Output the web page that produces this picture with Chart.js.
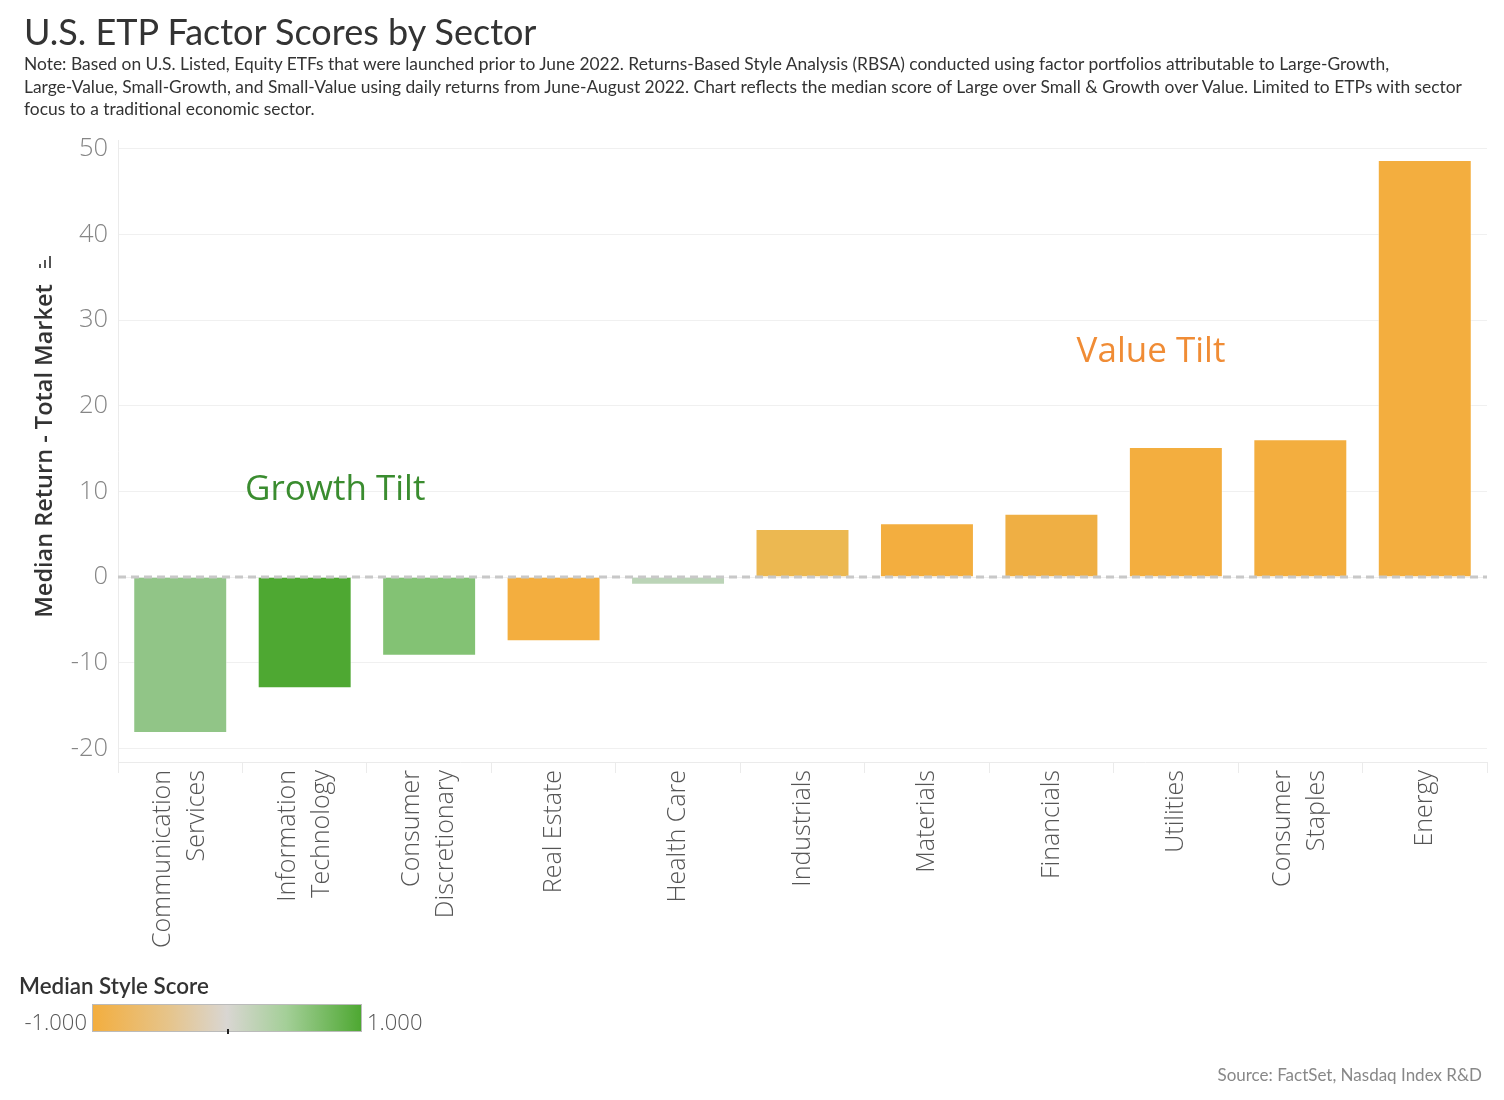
<!DOCTYPE html>
<html><head><meta charset="utf-8">
<script src="https://cdn.jsdelivr.net/npm/chart.js@4/dist/chart.umd.min.js"></script>
<style>
body{margin:0;width:1504px;height:1100px;position:relative;background:#fff;overflow:hidden;}
canvas{position:absolute;left:0;top:0;}
#title{position:absolute;left:24px;top:9px;font:36px Lato,"Open Sans",sans-serif;color:#333;white-space:nowrap;}
#note{position:absolute;left:24px;top:53px;font:17.4px Lato,"Open Sans",sans-serif;color:#333;line-height:22.5px;white-space:nowrap;}
#source{position:absolute;right:22px;top:1064px;font:17px Lato,"Open Sans",sans-serif;color:#888;}
#legTitle{position:absolute;left:19px;top:972px;font:600 22.4px Lato,"Open Sans",sans-serif;color:#333;}
#legBar{position:absolute;left:92px;top:1004px;width:268px;height:26px;border:1px solid #bbb;
 background:linear-gradient(to right,#f3ae3f 0%,#e6c48a 28%,#d9d6d2 50%,#a4cf98 72%,#4ea832 100%);}
#legTick{position:absolute;left:227px;top:1029px;width:2px;height:5px;background:#222;}
.legLab{position:absolute;top:1006px;font:300 22px "Open Sans",sans-serif;color:#555;}
</style></head><body>
<canvas id="c" width="1504" height="1100"></canvas>
<div id="title">U.S. ETP Factor Scores by Sector</div>
<div id="note">Note: Based on U.S. Listed, Equity ETFs that were launched prior to June 2022. Returns-Based Style Analysis (RBSA) conducted using factor portfolios attributable to Large-Growth,<br>Large-Value, Small-Growth, and Small-Value using daily returns from June-August 2022. Chart reflects the median score of Large over Small &amp; Growth over Value. Limited to ETPs with sector<br>focus to a traditional economic sector.</div>
<div id="legTitle">Median Style Score</div>
<div id="legBar"></div><div id="legTick"></div>
<div class="legLab" style="right:1417px">-1.000</div>
<div class="legLab" style="left:367px">1.000</div>
<div id="source">Source: FactSet, Nasdaq Index R&amp;D</div>
<script>
const categories = [
  ['Communication','Services'],
  ['Information','Technology'],
  ['Consumer','Discretionary'],
  ['Real Estate'],
  ['Health Care'],
  ['Industrials'],
  ['Materials'],
  ['Financials'],
  ['Utilities'],
  ['Consumer','Staples'],
  ['Energy']
];
const medianReturn = [-18.2, -13.0, -9.2, -7.5, -0.9, 5.6, 6.3, 7.4, 15.2, 16.1, 48.7];
const barColors = ['#91c587','#4ea832','#83c274','#f3ae3f','#bbd4b7','#ecb851','#f3ae3f','#efaf44','#f3ae3f','#f3ae3f','#f3ae3f'];
const yTicks = [-20, -10, 0, 10, 20, 30, 40, 50];
const annotations = [
  {text:'Growth Tilt', x:1.245, y:10.2, color:'#3a8c2f'},
  {text:'Value Tilt', x:7.8, y:26.3, color:'#f08c35'}
];

const overlay = {
  id:'overlay',
  afterDatasetsDraw(chart){
    const ctx = chart.ctx, xs = chart.scales.x, ys = chart.scales.y, a = chart.chartArea;
    const y0 = ys.getPixelForValue(0);
    ctx.save();
    ctx.strokeStyle = '#c8c8c8'; ctx.lineWidth = 3; ctx.setLineDash([8,5]);
    ctx.beginPath(); ctx.moveTo(a.left, y0); ctx.lineTo(a.right, y0); ctx.stroke();
    ctx.setLineDash([]);
    ctx.font = '35px "Open Sans", sans-serif';
    ctx.textAlign = 'center'; ctx.textBaseline = 'middle';
    annotations.forEach(n => {
      ctx.fillStyle = n.color;
      ctx.fillText(n.text, xs.getPixelForValue(n.x), ys.getPixelForValue(n.y));
    });
    // x labels
    ctx.font = '300 25px "Open Sans", sans-serif';
    ctx.fillStyle = '#555';
    ctx.textAlign = 'right';
    const lh = 34, top = a.bottom + 8;
    categories.forEach((lines, i) => {
      const cx = xs.getPixelForValue(i);
      lines.forEach((ln, j) => {
        const lx = cx + (j - (lines.length - 1) / 2) * lh;
        ctx.save(); ctx.translate(lx, top); ctx.rotate(-Math.PI/2);
        ctx.fillText(ln, 0, 0); ctx.restore();
      });
    });
    // small sort icon above the y-axis title
    ctx.fillStyle = '#555';
    const base = 268;
    [[39,4],[44,8],[49,12]].forEach(([x,h]) => { ctx.fillRect(x, base - h, 2, h); });
    ctx.restore();
  }
};

new Chart(document.getElementById('c'), {
  type:'bar',
  data:{
    labels: categories.map(c => c.join(' ')),
    datasets:[{data: medianReturn, backgroundColor: barColors, borderColor:'rgba(255,255,255,0.5)', borderWidth:1,
      categoryPercentage:1, barPercentage:0.755}]
  },
  options:{
    responsive:false, animation:false,
    layout:{padding:{left:0, top:140, right:17, bottom:327}},
    plugins:{legend:{display:false}, tooltip:{enabled:false}},
    scales:{
      x:{
        ticks:{display:false},
        grid:{offset:true, drawOnChartArea:false, color:'#ebebeb', tickLength:11},
        border:{color:'#ebebeb'},
        afterFit(s){ s.height = 11; }
      },
      y:{
        min:-21.6, max:51.05,
        afterBuildTicks(s){ s.ticks = yTicks.map(v => ({value:v})); },
        ticks:{font:{family:'"Open Sans", sans-serif', size:25.5, weight:300}, color:'#868686', padding:10},
        grid:{color:'#f0f0f0', drawTicks:false},
        border:{color:'#ebebeb'},
        title:{display:true, text:'Median Return - Total Market', color:'#333',
          font:{family:'"Open Sans", sans-serif', size:23.5, weight:600}, padding:{top:31}},
        afterFit(s){ s.width = 118; }
      }
    }
  },
  plugins:[overlay]
});
</script>
</body></html>
